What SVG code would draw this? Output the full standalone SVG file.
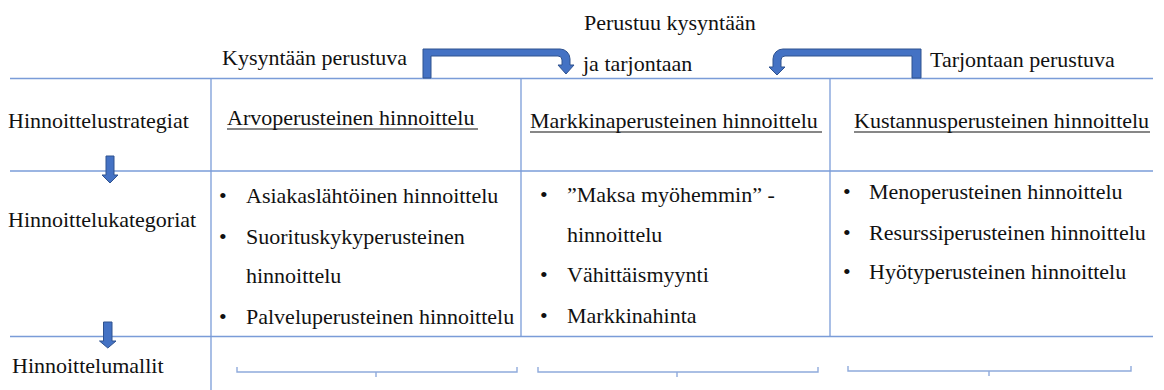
<svg xmlns="http://www.w3.org/2000/svg" width="1164" height="390" viewBox="0 0 1164 390">
<style>
  text { font-family: 'Liberation Serif', 'Tinos', 'Times New Roman', 'DejaVu Serif', serif; font-size: 22px; fill: #111; }
  .grid { stroke: #7A9CD8; stroke-width: 1.3; fill: none; }
  .arrow { fill: #4472C4; stroke: #2F528F; stroke-width: 1; }
  .brace { stroke: #8FAADC; stroke-width: 1.4; fill: none; }
  .ul { stroke: #111; stroke-width: 1.2; }
</style>
<rect width="1164" height="390" fill="#fff"/>

<g id="connectors">
  <line class="grid" x1="10" y1="78.5" x2="1153" y2="78.5"/>
  <line class="grid" x1="10" y1="171" x2="1153" y2="171"/>
  <line class="grid" x1="10" y1="336.5" x2="1153" y2="336.5"/>
  <line class="grid" x1="211" y1="78.5" x2="211" y2="390"/>
  <line class="grid" x1="521" y1="78.5" x2="521" y2="336.5"/>
  <line class="grid" x1="830" y1="78.5" x2="830" y2="336.5"/>
  <path class="arrow" d="M423,78 L423,49 L560,49 A10,10 0 0 1 570,59 L570,65 L574,65 L566,74 L558,65 L562,65 L562,60 A4,4 0 0 0 558,56 L431,56 L431,78 Z"/>
  <path class="arrow" d="M921,78 L921,49 L783,49 A10,10 0 0 0 773,59 L773,67 L769,67 L777,75 L785,67 L781,67 L781,60 A4,4 0 0 1 785,56 L912,56 L912,78 Z"/>
  <path class="arrow" d="M106,156 L114,156 L114,175 L118,175 L110,183 L102,175 L106,175 Z"/>
  <path class="arrow" d="M103.5,322 L112,322 L112,341 L116,341 L107.8,348 L99.5,341 L103.5,341 Z"/>
  <path class="brace" d="M237,367 L237,372 L376,372 L376,377 M376,372 L517,372 L517,367"/>
  <path class="brace" d="M538,367 L538,372 L677,372 L677,377 M677,372 L818,372 L818,367"/>
  <path class="brace" d="M848,366 L848,371 L989,371 L989,376 M989,371 L1131,371 L1131,366"/>
</g>

<g id="top-labels" font-family="Liberation Serif, serif">
  <text x="222" y="65">Kysyntään perustuva</text>
  <text x="584" y="30">Perustuu kysyntään</text>
  <text x="583" y="71">ja tarjontaan</text>
  <text x="930" y="67">Tarjontaan perustuva</text>
</g>

<g id="row-labels">
  <text x="8" y="128">Hinnoittelustrategiat</text>
  <text x="8" y="227">Hinnoittelukategoriat</text>
  <text x="12" y="373">Hinnoittelumallit</text>
</g>

<g id="col-arvo">
  <text x="227" y="125">Arvoperusteinen hinnoittelu</text>
  <line class="ul" x1="227" y1="129" x2="478" y2="129"/>
  <text x="219" y="203">•</text><text x="246" y="203">Asiakaslähtöinen hinnoittelu</text>
  <text x="219" y="244">•</text><text x="246" y="244">Suorituskykyperusteinen</text>
  <text x="246" y="283">hinnoittelu</text>
  <text x="219" y="324">•</text><text x="246" y="324">Palveluperusteinen hinnoittelu</text>
</g>

<g id="col-markkina">
  <text x="530" y="128">Markkinaperusteinen hinnoittelu</text>
  <line class="ul" x1="530" y1="132" x2="822" y2="132"/>
  <text x="540" y="202">•</text><text x="567" y="202">”Maksa myöhemmin” -</text>
  <text x="567" y="242">hinnoittelu</text>
  <text x="540" y="282">•</text><text x="567" y="282">Vähittäismyynti</text>
  <text x="540" y="323">•</text><text x="567" y="323">Markkinahinta</text>
</g>

<g id="col-kustannus">
  <text x="854" y="128">Kustannusperusteinen hinnoittelu</text>
  <line class="ul" x1="854" y1="132" x2="1150" y2="132"/>
  <text x="843" y="199">•</text><text x="869" y="199">Menoperusteinen hinnoittelu</text>
  <text x="843" y="240">•</text><text x="869" y="240">Resurssiperusteinen hinnoittelu</text>
  <text x="843" y="279">•</text><text x="869" y="279">Hyötyperusteinen hinnoittelu</text>
</g>
</svg>
